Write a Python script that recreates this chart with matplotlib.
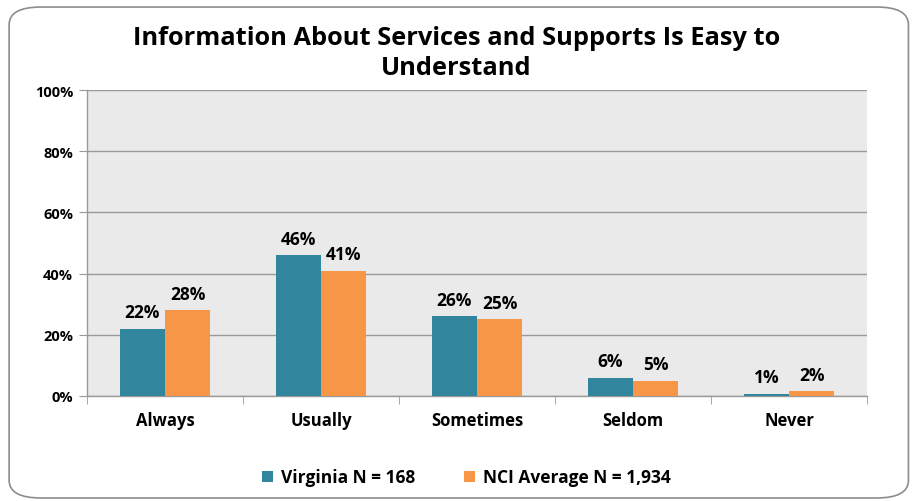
import numpy as np
import matplotlib
matplotlib.use("Agg")
import matplotlib.pyplot as plt
from matplotlib.patches import FancyBboxPatch

plt.rcParams['font.family'] = ['Open Sans', 'DejaVu Sans']

categories = ["Always", "Usually", "Sometimes", "Seldom", "Never"]
virginia = [22, 46, 26, 6, 0.7]
nci_avg = [28, 41, 25, 5, 1.6]
series_names = ["Virginia N = 168", "NCI Average N = 1,934"]
title = "Information About Services and Supports Is Easy to\nUnderstand"

teal = "#31859C"
orange = "#F79646"

fig = plt.figure(figsize=(9.13, 5.02), dpi=100)

# rounded frame around the whole chart
frame = FancyBboxPatch((0.010, 0.006), 0.985, 0.978,
                       boxstyle="round,pad=0,rounding_size=0.035",
                       transform=fig.transFigure, facecolor="white",
                       edgecolor="#8c8c8c", linewidth=1.2, zorder=-5)
fig.patches.append(frame)

ax = fig.add_axes([0.0953, 0.2092, 0.8543, 0.6095])
ax.set_facecolor("#EAEAEA")

x = np.arange(len(categories))
w = 0.29
b1 = ax.bar(x - w / 2, virginia, w, color=teal, zorder=3)
b2 = ax.bar(x + w / 2, nci_avg, w, color=orange, zorder=3)

for bars, vals in ((b1, virginia), (b2, nci_avg)):
    for r, v in zip(bars, vals):
        ax.text(r.get_x() + r.get_width() / 2, v + 2.4, "{:.0f}%".format(v),
                ha="center", va="bottom", fontsize=12.5, fontweight="bold")

ax.set_xlim(-0.5, len(categories) - 0.5)
ax.set_ylim(0, 100)
ax.set_yticks(range(0, 101, 20))
ax.set_yticklabels(["{}%".format(t) for t in range(0, 101, 20)],
                   fontsize=10.5, fontweight="bold")
ax.yaxis.grid(True, color="#999999", linewidth=1.0, zorder=0)
ax.set_axisbelow(True)

ax.set_xticks(x)
ax.set_xticklabels(categories, fontsize=12, fontweight="bold")
ax.set_xticks(np.arange(-0.5, len(categories)), minor=True)
ax.tick_params(axis="x", which="major", length=0, pad=11)
ax.tick_params(axis="x", which="minor", length=6, color="#999999")
ax.tick_params(axis="y", length=6, color="#999999", pad=4)

for s in ("top", "right"):
    ax.spines[s].set_visible(False)
for s in ("left", "bottom"):
    ax.spines[s].set_color("#999999")
    ax.spines[s].set_linewidth(1.0)

fig.text(0.5, 0.893, title, ha="center", va="center", fontsize=18.3,
         fontweight="bold", linespacing=1.25)

leg = fig.legend([b1, b2], series_names, loc="center", bbox_to_anchor=(0.511, 0.047),
                 ncol=2, frameon=False, prop={"weight": "bold", "size": 12.5},
                 handlelength=0.65, handleheight=0.65, columnspacing=2.8,
                 handletextpad=0.45)

fig.savefig("out.png", dpi=100)
